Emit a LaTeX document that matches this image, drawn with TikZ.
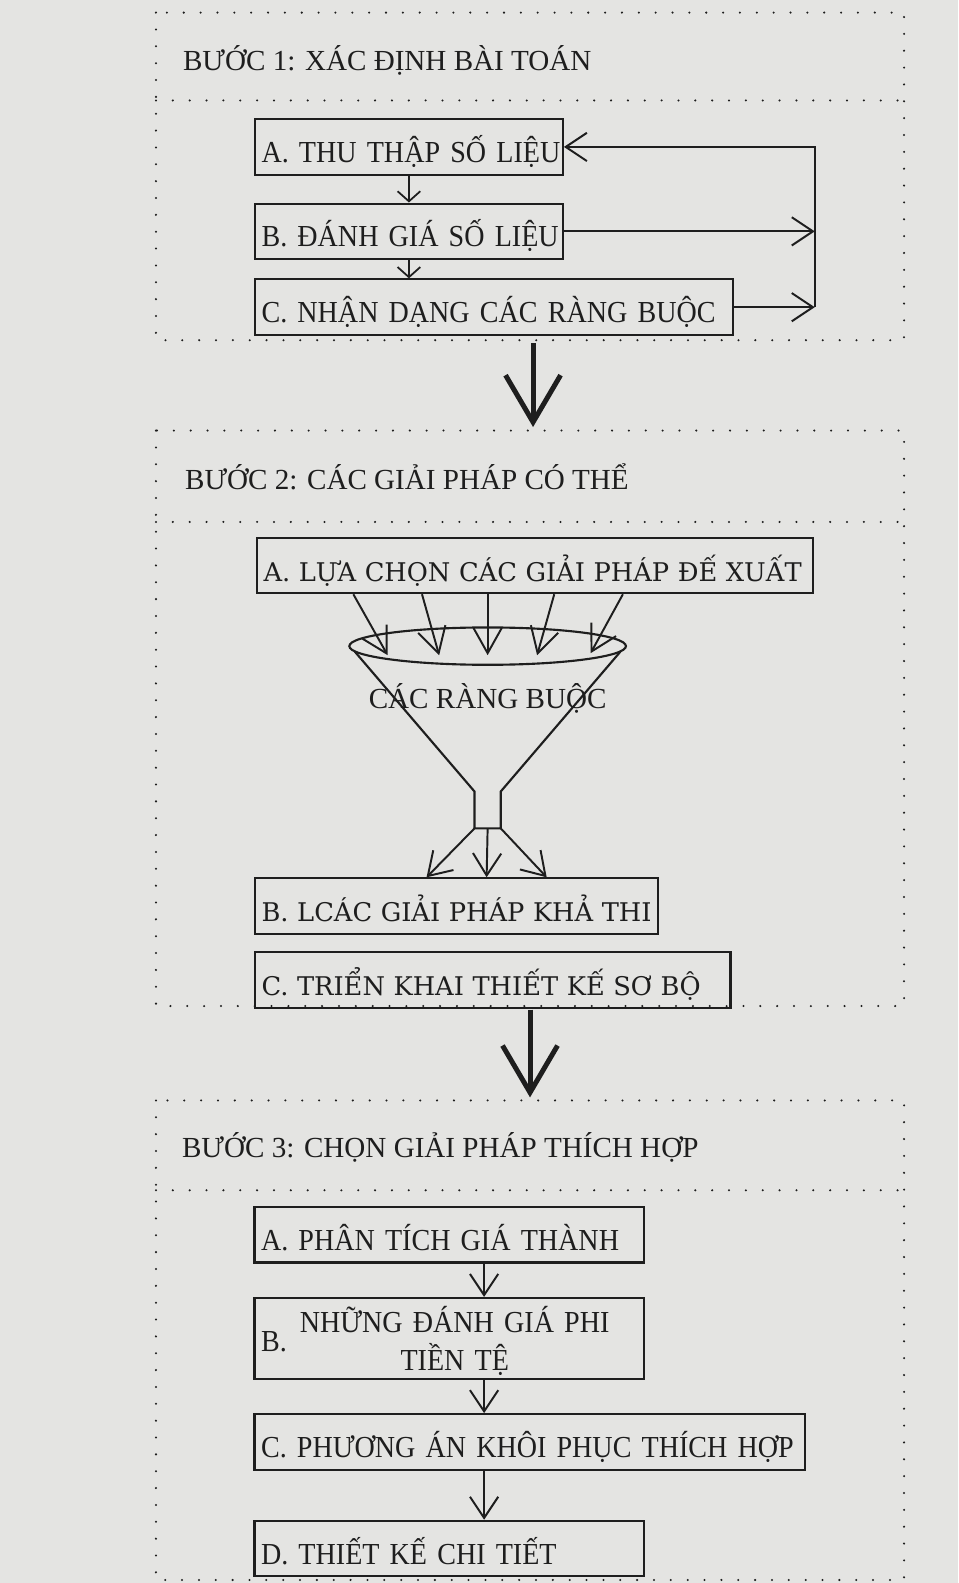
\documentclass[tikz,border=0pt]{standalone}
\usepackage{fontspec}
\setmainfont{Liberation Serif}
\newfontfamily\hepfont[FakeStretch=0.92]{Liberation Serif}
\newfontfamily\rongfont{DejaVu Serif}
\usetikzlibrary{arrows.meta,positioning,calc,shapes.geometric}
\definecolor{GiayXam}{RGB}{228,228,226}
\definecolor{MucDen}{RGB}{30,30,30}
\newcommand\chuto{\fontsize{16.4}{21}\selectfont}
\tikzset{
  buocbox/.style={draw=MucDen, line width=1.2pt, text=MucDen, align=left,
    text width=#1, minimum height=1.1cm, inner xsep=0.13cm, inner ysep=0.07cm,
    text height=0.79cm, text depth=0.17cm, font=\hepfont\fontsize{17.2}{21}\selectfont,
    execute at begin node={\hbox\bgroup}, execute at end node={\egroup}},
  buocbox/.default=5.84cm,
  rongbox/.style={buocbox=#1, font=\rongfont\fontsize{14.5}{18}\selectfont},
  tieude/.style={anchor=base west, inner sep=0pt, text=MucDen, font=\chuto},
  khung/.style={draw=MucDen, line width=1.3pt, line cap=round, dash pattern=on 0pt off 9.5pt},
  nhoarr/.style={-{Straight Barb[length=0.2cm, width=0.45cm]}, line width=1pt, MucDen},
  muiten/.style={-{Straight Barb[length=#1, width=0.56cm]}, line width=1.1pt, MucDen},
  muiten/.default=0.42cm,
  toarr/.style={-{Straight Barb[length=0.93cm, width=1.09cm]}, line width=2.8pt, MucDen},
  pheu/.style={draw=MucDen, line width=1.2pt},
  miengpheu/.style={ellipse, draw=MucDen, line width=1.2pt, minimum width=5.48cm,
    minimum height=0.74cm, inner sep=0pt},
}
\begin{document}
\begin{tikzpicture}
  \fill[GiayXam] (0,0) rectangle (18.98,-31.36);
  \useasboundingbox (0,0) rectangle (18.98,-31.36);
  % khung cham
  \draw[khung] (3.09,-0.25) rectangle (17.91,-6.74);
  \draw[khung] (3.09,-1.99) -- (17.91,-1.99);
  \draw[khung] (3.09,-8.53) rectangle (17.91,-19.93);
  \draw[khung] (3.09,-10.34) -- (17.91,-10.34);
  \draw[khung] (3.09,-21.80) rectangle (17.91,-31.30);
  \draw[khung] (3.09,-23.58) -- (17.91,-23.58);

  % buoc 1
  \node[tieude] (b1) at (3.62,-1.39) {BƯỚC 1: XÁC ĐỊNH BÀI TOÁN};
  \node[buocbox, anchor=north west] (s1a) at (5.03,-2.34) {A. THU THẬP SỐ LIỆU};
  \node[buocbox, below right=0.53cm and 0cm of s1a.south west] (s1b) {B. ĐÁNH GIÁ SỐ LIỆU};
  \node[buocbox=9.21cm, below right=0.36cm and 0cm of s1b.south west] (s1c) {C. NHẬN DẠNG CÁC RÀNG BUỘC};
  \draw[nhoarr] (s1a.south) -- (s1b.north);
  \draw[nhoarr] (s1b.south) -- (s1b.south |- s1c.north);
  \coordinate (vong) at (16.14,-4.5);
  \draw[muiten] (s1c.east -| vong) -- (s1a.east -| vong) -- (s1a.east);
  \draw[muiten] (s1b.east) -- (s1b.east -| vong);
  \draw[muiten] (s1c.east) -- (s1c.east -| vong);
  \coordinate (k1) at (10.56,-6.80);
  \coordinate (k2) at (10.56,-8.46);
  \draw[toarr] (k1) -- (k2);

  % buoc 2
  \node[tieude] (b2) at (3.66,-9.69) {BƯỚC 2: CÁC GIẢI PHÁP CÓ THỂ};
  \node[rongbox=10.76cm, anchor=north west] (s2a) at (5.07,-10.63) {A. LỰA CHỌN CÁC GIẢI PHÁP ĐẾ XUẤT};
  \node[miengpheu] (mieng) at (9.66,-12.80) {};
  \node[tieude, anchor=base] (rangbuoc) at (9.66,-14.03) {CÁC RÀNG BUỘC};
  \coordinate (co) at (9.66,-16.41);
  \draw[pheu] ($(mieng.center)+(-2.63,-0.11)$) -- ($(co)+(-0.26,0.73)$) -- ($(co)+(-0.26,0)$)
    -- ($(co)+(0.26,0)$) -- ($(co)+(0.26,0.73)$) -- ($(mieng.center)+(2.63,-0.11)$);
  \draw[muiten=0.5cm] ($(s2a.south west)+(1.93,0)$) -- ($(mieng.center)+(-1.98,-0.18)$);
  \draw[muiten=0.5cm] ($(s2a.south west)+(3.29,0)$) -- ($(mieng.center)+(-0.96,-0.18)$);
  \draw[muiten=0.5cm] ($(s2a.south west)+(4.59,0)$) -- ($(mieng.center)+(0,-0.18)$);
  \draw[muiten=0.5cm] ($(s2a.south west)+(5.91,0)$) -- ($(mieng.center)+(0.98,-0.18)$);
  \draw[muiten=0.5cm] ($(s2a.south west)+(7.27,0)$) -- ($(mieng.center)+(2.04,-0.14)$);
  \node[rongbox=7.72cm, anchor=north west] (s2b) at (5.03,-17.38) {B. LCÁC GIẢI PHÁP KHẢ THI};
  \node[rongbox=9.16cm, below right=0.32cm and 0cm of s2b.south west] (s2c) {C. TRIỂN KHAI THIẾT KẾ SƠ BỘ};
  \draw[muiten=0.44cm] ($(co)+(-0.26,0)$) -- ($(s2b.north west)+(3.42,0)$);
  \draw[muiten=0.44cm] (co) -- ($(s2b.north west)+(4.61,0)$);
  \draw[muiten=0.44cm] ($(co)+(0.26,0)$) -- ($(s2b.north west)+(5.80,0)$);
  \coordinate (k3) at (10.50,-20.00);
  \coordinate (k4) at (10.50,-21.74);
  \draw[toarr] (k3) -- (k4);

  % buoc 3
  \node[tieude] (b3) at (3.60,-22.94) {BƯỚC 3: CHỌN GIẢI PHÁP THÍCH HỢP};
  \node[buocbox=7.46cm, anchor=north west] (s3a) at (5.02,-23.89) {A. PHÂN TÍCH GIÁ THÀNH};
  \node[buocbox=7.46cm, minimum height=1.6cm, text height=0.99cm, text depth=0.47cm,
    below right=0.66cm and 0cm of s3a.south west] (s3b)
    {B.\hspace{0.26cm}\begin{tabular}{@{}c@{}}NHỮNG ĐÁNH GIÁ PHI\\ TIỀN TỆ\end{tabular}};
  \node[buocbox=10.64cm, below right=0.66cm and 0cm of s3b.south west] (s3c) {C. PHƯƠNG ÁN KHÔI PHỤC THÍCH HỢP};
  \node[buocbox=7.46cm, below right=0.97cm and 0cm of s3c.south west] (s3d) {D. THIẾT KẾ CHI TIẾT};
  \draw[muiten] ($(s3a.south west)+(4.57,0)$) -- ($(s3b.north west)+(4.57,0)$);
  \draw[muiten] ($(s3b.south west)+(4.57,0)$) -- ($(s3c.north west)+(4.57,0)$);
  \draw[muiten] ($(s3c.south west)+(4.57,0)$) -- ($(s3d.north west)+(4.57,0)$);
\end{tikzpicture}
\end{document}
